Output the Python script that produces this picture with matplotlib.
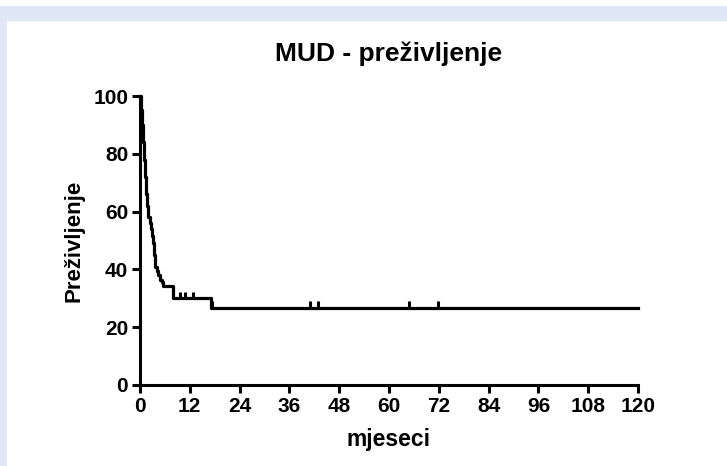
import matplotlib.pyplot as plt
from matplotlib.patches import Rectangle

# Kaplan-Meier step points (months, % survival)
stepTimes = [0, 0.3, 0.6, 0.8, 1.0, 1.2, 1.45, 1.7, 2.0, 2.4, 2.7, 2.9, 3.2, 3.4, 3.6, 4.0, 4.4, 4.8, 5.2, 5.6, 8.0, 17.0, 120]
stepSurv = [100, 95, 90, 84, 78, 72, 66, 62, 58, 56, 54, 51.5, 49, 45, 41, 39.5, 38, 36.5, 35.5, 34.4, 30.0, 26.6, 26.6]

# censored observations
censorTimes = [9.6, 10.8, 12.8, 17.4, 41.0, 42.9, 64.8, 71.8]
censorSurv = [30.0, 30.0, 30.0, 26.6, 26.6, 26.6, 26.6, 26.6]

xTicks = [0, 12, 24, 36, 48, 60, 72, 84, 96, 108, 120]
yTicks = [0, 20, 40, 60, 80, 100]

plt.rcParams['font.family'] = ['Liberation Sans', 'DejaVu Sans']
plt.rcParams['font.weight'] = 'bold'

fig = plt.figure(figsize=(7.27, 4.66), dpi=100)
fig.patch.set_facecolor('white')

# light blue frame at top and left
bandColor = '#e1e8f5'
fig.patches.append(Rectangle((0, (466 - 21) / 466), 1, 15 / 466, transform=fig.transFigure,
                             facecolor=bandColor, edgecolor='none', zorder=0))
fig.patches.append(Rectangle((0, 0), 7 / 727, (466 - 6) / 466, transform=fig.transFigure,
                             facecolor=bandColor, edgecolor='none', zorder=0))

ax = fig.add_axes([140 / 727, (466 - 385) / 466, (638 - 140) / 727, (385 - 96) / 466])
ax.set_facecolor('none')

ax.plot(stepTimes, stepSurv, drawstyle='steps-post', color='black', linewidth=2.3, clip_on=False)
ax.vlines(censorTimes, censorSurv, [s + 2.3 for s in censorSurv], color='black', linewidth=2.2)

ax.set_xlim(0, 120)
ax.set_ylim(0, 100)
ax.set_xticks(xTicks)
ax.set_yticks(yTicks)

for side in ['top', 'right']:
    ax.spines[side].set_visible(False)
for side in ['left', 'bottom']:
    ax.spines[side].set_linewidth(2.2)

ax.tick_params(direction='out', length=6, width=2.2, labelsize=15, pad=2.5)
for lbl in ax.get_xticklabels() + ax.get_yticklabels():
    lbl.set_fontweight('bold')

ax.set_title('MUD - preživljenje', fontsize=19, fontweight='bold', pad=25)
ax.set_xlabel('mjeseci', fontsize=16.5, fontweight='bold', labelpad=9)
ax.set_ylabel('Preživljenje', fontsize=16, fontweight='bold', labelpad=6)

fig.savefig('out.png', dpi=100)
